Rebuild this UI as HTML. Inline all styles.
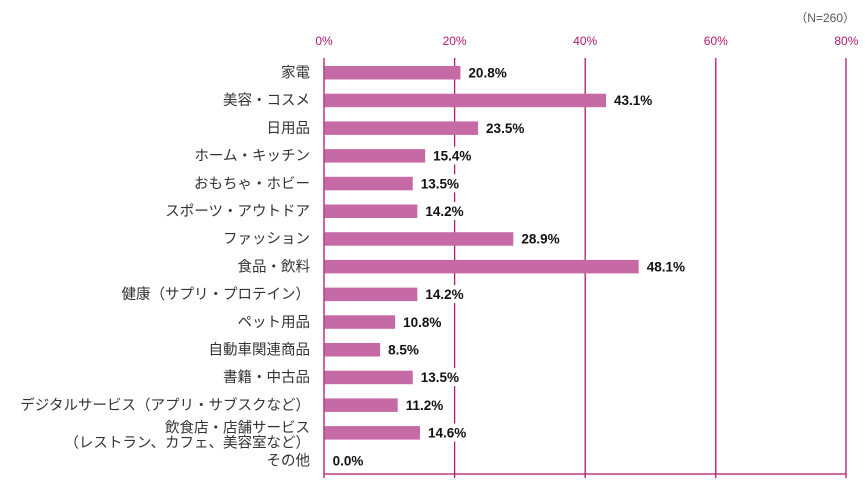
<html><head><style>
body{margin:0;background:#fff;width:865px;height:493px;overflow:hidden;font-family:"Liberation Sans","Noto Sans CJK JP",sans-serif}
</style></head><body>
<svg width="865" height="493" xmlns="http://www.w3.org/2000/svg" font-family="Liberation Sans, Noto Sans CJK JP, sans-serif">
<text x="855" y="22" font-size="12" fill="#555" text-anchor="end">（N=260）</text>
<g fill="#b0186e" font-size="12" text-anchor="middle">
<text x="324" y="45">0%</text><text x="454.6" y="45">20%</text><text x="585.2" y="45">40%</text><text x="715.8" y="45">60%</text><text x="846.4" y="45">80%</text>
</g>
<g stroke="#b0186e" stroke-width="1.3">
<line x1="324" y1="58" x2="324" y2="478"/><line x1="454.6" y1="58" x2="454.6" y2="478"/><line x1="585.2" y1="58" x2="585.2" y2="478"/><line x1="715.8" y1="58" x2="715.8" y2="478"/><line x1="846" y1="58" x2="846" y2="478"/>
<line x1="324" y1="474" x2="846" y2="474"/>
</g>
<g id="rows"></g>
</svg>
<script>
var d=[["家電",20.8],["美容・コスメ",43.1],["日用品",23.5],["ホーム・キッチン",15.4],["おもちゃ・ホビー",13.5],["スポーツ・アウトドア",14.2],["ファッション",28.9],["食品・飲料",48.1],["健康（サプリ・プロテイン）",14.2],["ペット用品",10.8],["自動車関連商品",8.5],["書籍・中古品",13.5],["デジタルサービス（アプリ・サブスクなど）",11.2],["飲食店・店舗サービス",14.6],["その他",0]];
var g=document.getElementById('rows'),s='';
d.forEach(function(r,i){var y=72.5+i*27.7,w=r[1]*6.53,t=r[1].toFixed(1)+'%';
if(i==13){s+='<text x="310" y="'+(y)+'" text-anchor="end" fill="#333" font-size="14.5">飲食店・店舗サービス</text><text x="310" y="'+(y+15)+'" text-anchor="end" fill="#333" font-size="14.5">（レストラン、カフェ、美容室など）</text>';}
else s+='<text x="310" y="'+(y+5)+'" text-anchor="end" fill="#333" font-size="14.5">'+r[0]+'</text>';
if(w>0)s+='<rect x="324.6" y="'+(y-6.5)+'" width="'+w+'" height="13.5" fill="#c66aa6"/>';
var lx=324.6+w+3,bh=(i==14)?15:18;s+='<rect x="'+lx+'" y="'+(y-9)+'" width="48" height="'+bh+'" fill="#fff"/><text x="'+(lx+5)+'" y="'+(y+5)+'" font-weight="bold" fill="#111" font-size="13.5">'+t+'</text>';});
g.innerHTML=s;
</script>
</body></html>
